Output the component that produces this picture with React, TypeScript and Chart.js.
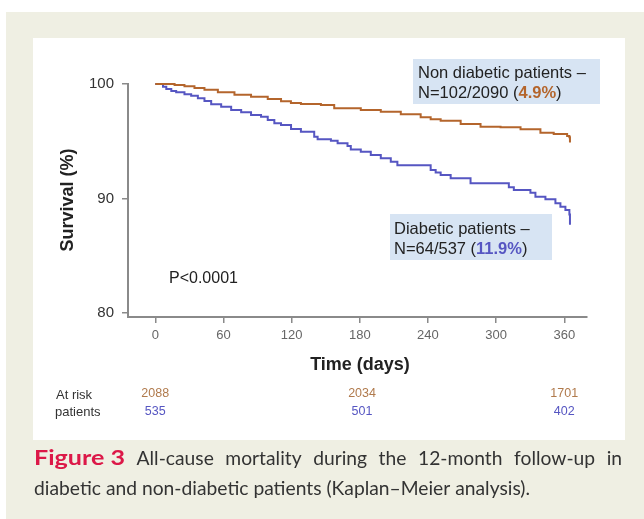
import React, { useEffect, useRef } from "react";
import { Chart, registerables } from "chart.js";

Chart.register(...registerables);

// ---- Data ----
const nonDiabeticDays = [0, 17, 25.7, 34.5, 43.3, 55.1, 69.7, 84.3, 99, 110.7, 119.4, 128.2, 145.8, 157.5, 180.9, 198.5, 216.1, 233.6, 242.4, 251.2, 268.8, 286.3, 303.9, 321.5, 339, 350.7, 362.5, 364.5, 365];
const nonDiabeticSurvival = [100, 99.92, 99.8, 99.65, 99.5, 99.27, 99.06, 98.89, 98.69, 98.49, 98.34, 98.25, 98.17, 97.88, 97.73, 97.58, 97.35, 97.09, 96.92, 96.79, 96.51, 96.27, 96.22, 96.04, 95.75, 95.63, 95.46, 95.34, 94.9];

const diabeticDays = [0, 6.8, 9.7, 14.1, 18.4, 25.7, 31.6, 37.5, 43.3, 49.2, 58, 66.8, 75.6, 84.3, 93.1, 99, 104.8, 110.7, 119.5, 128.2, 139.9, 142.9, 154.6, 160.5, 169.2, 172.1, 180.9, 189.7, 198.5, 207.3, 213.1, 242.4, 246.8, 251.2, 260, 277.5, 311.2, 315.6, 330.2, 334.6, 343.4, 352.2, 356.6, 361, 364.5, 365];
const diabeticSurvival = [100, 99.76, 99.56, 99.39, 99.27, 99.1, 98.98, 98.75, 98.52, 98.23, 98.02, 97.73, 97.53, 97.29, 97.15, 96.86, 96.57, 96.42, 96.07, 95.83, 95.39, 95.17, 95.04, 94.82, 94.58, 94.29, 94.09, 93.8, 93.51, 93.21, 92.9, 92.49, 92.26, 92.05, 91.76, 91.33, 90.98, 90.74, 90.51, 90.16, 89.93, 89.58, 89.29, 89.0, 88.6, 87.7];

const xTickValues = [0, 60, 120, 180, 240, 300, 360];
const yTickValues = [80, 90, 100];

const atRiskDays = [0, 182, 360];
const atRiskNonDiabetic = ["2088", "2034", "1701"];
const atRiskDiabetic = ["535", "501", "402"];

const BROWN = "#b4652c";
const BLUE = "#5656c2";
const AXIS = "#8a8a8a";
const SANS = '"Liberation Sans", Arial, Helvetica, sans-serif';
const CAP = 'Lato, "Open Sans", sans-serif';

const decorPlugin = {
  id: "decor",
  beforeDraw(chart: any) {
    const ctx = chart.ctx as CanvasRenderingContext2D;
    ctx.save();
    ctx.fillStyle = "#ffffff";
    ctx.fillRect(0, 0, chart.width, chart.height);
    ctx.fillStyle = "#efefe3";
    ctx.fillRect(6, 12, chart.width - 6, chart.height - 12);
    ctx.fillStyle = "#ffffff";
    ctx.fillRect(33, 38, 592, 402);
    // annotation boxes
    ctx.fillStyle = "#d7e4f3";
    ctx.fillRect(413, 59, 187, 45);
    ctx.fillRect(390, 214, 162, 46);
    ctx.restore();
  },
  afterDraw(chart: any) {
    const ctx = chart.ctx as CanvasRenderingContext2D;
    const xs = chart.scales.x;
    ctx.save();
    ctx.textBaseline = "middle";

    // Y axis title
    ctx.save();
    ctx.translate(68, 200);
    ctx.rotate(-Math.PI / 2);
    ctx.font = `bold 18px ${SANS}`;
    ctx.fillStyle = "#222";
    ctx.textAlign = "center";
    ctx.fillText("Survival (%)", 0, 0);
    ctx.restore();

    // X axis title
    ctx.font = `bold 18px ${SANS}`;
    ctx.fillStyle = "#222";
    ctx.textAlign = "center";
    ctx.fillText("Time (days)", 360, 365);

    // P value
    ctx.textAlign = "left";
    ctx.font = `16px ${SANS}`;
    ctx.fillStyle = "#222";
    ctx.fillText("P<0.0001", 169, 279);

    // annotation texts
    const drawMixed = (x: number, y: number, parts: [string, string, boolean][]) => {
      let cx = x;
      for (const [t, col, bold] of parts) {
        ctx.font = `${bold ? "bold " : ""}16.5px ${SANS}`;
        ctx.fillStyle = col;
        ctx.fillText(t, cx, y);
        cx += ctx.measureText(t).width;
      }
    };
    drawMixed(418, 73, [["Non diabetic patients \u2013", "#222", false]]);
    drawMixed(418, 93, [["N=102/2090 (", "#222", false], ["4.9%", BROWN, true], [")", "#222", false]]);
    drawMixed(394, 229, [["Diabetic patients \u2013", "#222", false]]);
    drawMixed(394, 249, [["N=64/537 (", "#222", false], ["11.9%", BLUE, true], [")", "#222", false]]);

    // At risk table
    ctx.font = `13px ${SANS}`;
    ctx.fillStyle = "#333";
    ctx.textAlign = "left";
    ctx.fillText("At risk", 56, 395);
    ctx.fillText("patients", 55, 412);
    ctx.font = `12.5px ${SANS}`;
    ctx.textAlign = "center";
    atRiskDays.forEach((d, i) => {
      const px = xs.getPixelForValue(d);
      ctx.fillStyle = "#b07a4c";
      ctx.fillText(atRiskNonDiabetic[i], px, 394);
      ctx.fillStyle = BLUE;
      ctx.fillText(atRiskDiabetic[i], px, 412);
    });

    // Caption (condensed humanist look via horizontal scaling)
    const left = 34;
    const right = 622;
    ctx.textAlign = "left";
    const drawScaled = (t: string, x: number, y: number, sx: number) => {
      ctx.save();
      ctx.translate(x, y);
      ctx.scale(sx, 1);
      ctx.fillText(t, 0, 0);
      ctx.restore();
    };
    const capSize = 20;
    const line2 = "diabetic and non-diabetic patients (Kaplan\u2013Meier analysis).";
    ctx.font = `${capSize}px ${CAP}`;
    const sx = 496 / ctx.measureText(line2).width;
    const fig = "Figure 3";
    ctx.font = `bold ${capSize}px ${CAP}`;
    const figSx = 91 / ctx.measureText(fig).width;
    ctx.fillStyle = "#dc1848";
    drawScaled(fig, left, 459, figSx);
    ctx.font = `${capSize}px ${CAP}`;
    const words = ["All-cause", "mortality", "during", "the", "12-month", "follow-up", "in"];
    const ws = words.map((w) => ctx.measureText(w).width * sx);
    const sum = ws.reduce((a, b) => a + b, 0);
    const gap = (right - left - 91 - sum) / words.length;
    ctx.fillStyle = "#333";
    let cx = left + 91 + gap;
    words.forEach((w, i) => {
      drawScaled(w, cx, 459, sx);
      cx += ws[i] + gap;
    });
    drawScaled(line2, left, 489, sx);

    ctx.restore();
  },
};

export default function App() {
  const ref = useRef<HTMLCanvasElement | null>(null);

  useEffect(() => {
    if (!ref.current) return;
    const chart = new Chart(ref.current, {
      type: "line",
      data: {
        datasets: [
          {
            label: "Non diabetic",
            data: nonDiabeticDays.map((d, i) => ({ x: d, y: nonDiabeticSurvival[i] })),
            borderColor: BROWN,
            borderWidth: 2,
            pointRadius: 0,
            stepped: true,
            fill: false,
            clip: false as any,
          },
          {
            label: "Diabetic",
            data: diabeticDays.map((d, i) => ({ x: d, y: diabeticSurvival[i] })),
            borderColor: BLUE,
            borderWidth: 2,
            pointRadius: 0,
            stepped: true,
            fill: false,
            clip: false as any,
          },
        ],
      },
      options: {
        responsive: false,
        animation: false,
        devicePixelRatio: 1,
        layout: { autoPadding: false, padding: { left: 0, top: 84, right: 57, bottom: 162 } },
        plugins: { legend: { display: false }, tooltip: { enabled: false } },
        scales: {
          x: {
            type: "linear",
            min: -24,
            max: 380,
            afterFit: (s: any) => {
              s.height = 40;
            },
            afterBuildTicks: (s: any) => {
              s.ticks = xTickValues.map((v) => ({ value: v }));
            },
            grid: { drawOnChartArea: false, drawTicks: true, tickLength: 6, color: AXIS, lineWidth: 1.5 },
            border: { display: true, color: AXIS, width: 2 },
            ticks: { color: "#666", font: { family: SANS, size: 13 }, padding: 5, maxRotation: 0 },
          },
          y: {
            type: "linear",
            min: 79.65,
            max: 100,
            afterFit: (s: any) => {
              s.width = 128;
            },
            afterBuildTicks: (s: any) => {
              s.ticks = yTickValues.map((v) => ({ value: v }));
            },
            grid: { drawOnChartArea: false, drawTicks: true, tickLength: 6, color: AXIS, lineWidth: 1.5 },
            border: { display: true, color: AXIS, width: 2 },
            ticks: { color: "#333", font: { family: SANS, size: 15 }, padding: 8 },
          },
        },
      },
      plugins: [decorPlugin],
    });
    return () => chart.destroy();
  }, []);

  return (
    <div style={{ position: "absolute", left: 0, top: 0, width: 644, height: 519 }}>
      <canvas ref={ref} width={644} height={519} style={{ display: "block", width: 644, height: 519 }} />
    </div>
  );
}
